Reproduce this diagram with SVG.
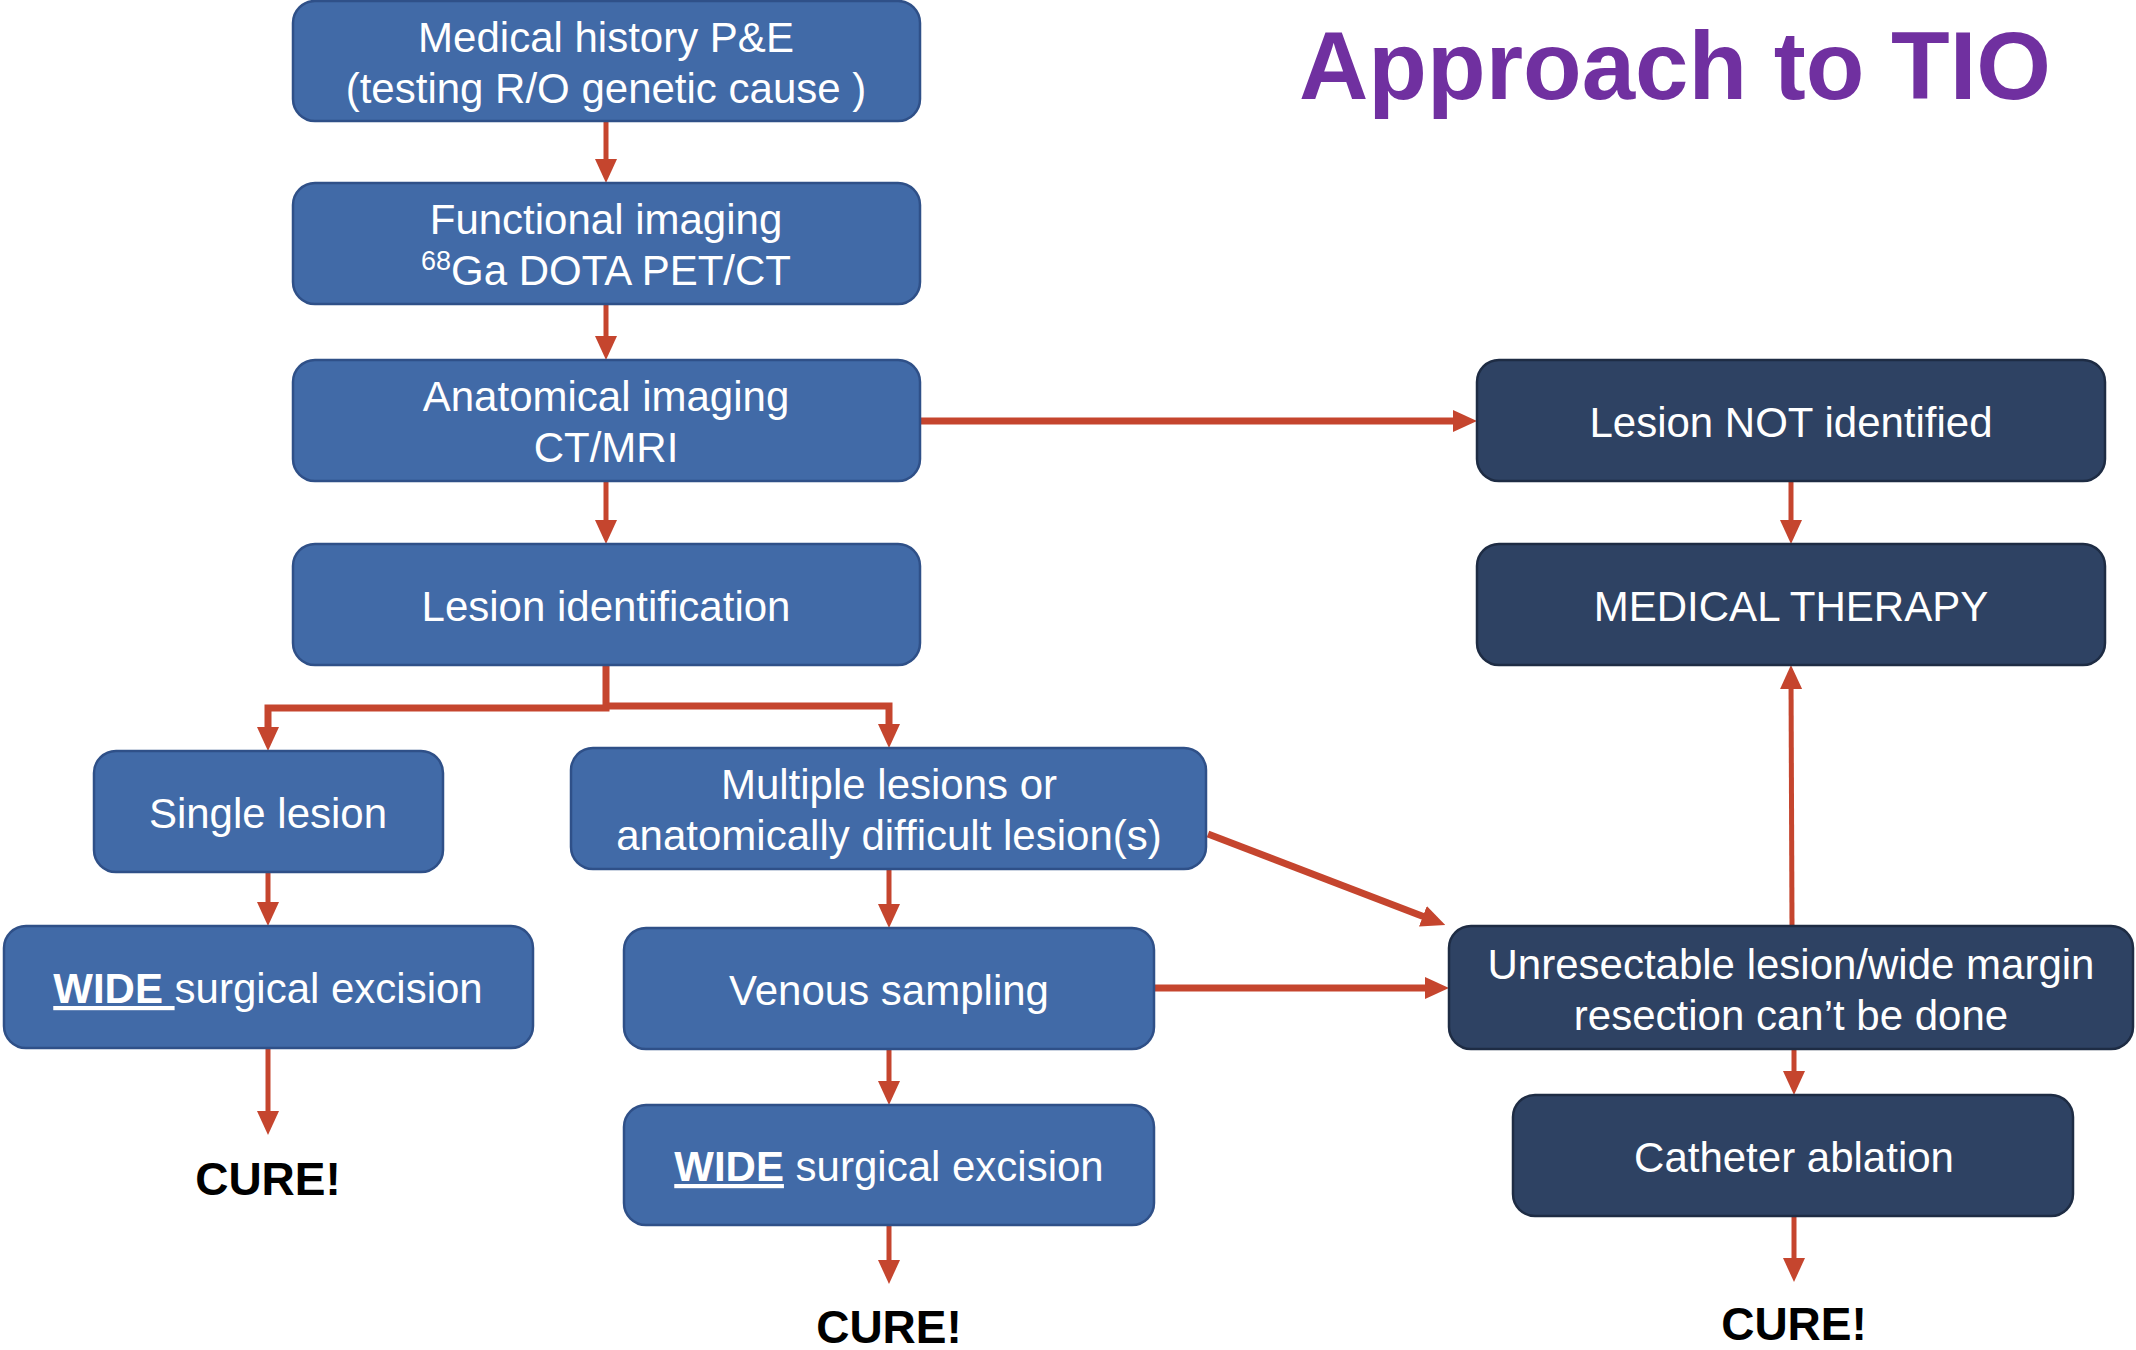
<svg xmlns="http://www.w3.org/2000/svg" width="2136" height="1350" viewBox="0 0 2136 1350">
<style>
.b{fill:#416AA7;stroke:#2F5088;stroke-width:2.5}
.d{fill:#2E4263;stroke:#1E2C44;stroke-width:2.5}
.t{font-family:"Liberation Sans",Arial,sans-serif;font-size:42px;fill:#FFFFFF;text-anchor:middle}
.c{stroke:#C5452E;fill:none;stroke-width:5}
.k{stroke:#C5452E;fill:none;stroke-width:7}
.cure{font-family:"Liberation Sans",Arial,sans-serif;font-size:46px;font-weight:bold;fill:#000;text-anchor:middle}
</style>
<defs>
<marker id="ah" markerUnits="userSpaceOnUse" viewBox="0 0 24 22" refX="13" refY="11" markerWidth="24" markerHeight="22" orient="auto">
<path d="M0,0 L24,11 L0,22 Z" fill="#C5452E"/>
</marker>
</defs>
<rect width="2136" height="1350" fill="#FFFFFF"/>
<text x="1675" y="99" style="font-family:'Liberation Sans',Arial,sans-serif;font-size:96px;font-weight:bold;fill:#7030A0;text-anchor:middle">Approach to TIO</text>

<g id="connectors">
<path class="c" d="M606,121 V172" marker-end="url(#ah)"/>
<path class="c" d="M606,304 V349" marker-end="url(#ah)"/>
<path class="c" d="M606,481 V533" marker-end="url(#ah)"/>
<path class="k" d="M920,421 H1466" marker-end="url(#ah)"/>
<path class="c" d="M1791,481 V533" marker-end="url(#ah)"/>
<path class="k" d="M606,665 V708 H268 V740" marker-end="url(#ah)"/>
<path class="k" d="M606,706 H889 V737" marker-end="url(#ah)"/>
<path class="c" d="M268,872 V915" marker-end="url(#ah)"/>
<path class="c" d="M268,1048 V1124" marker-end="url(#ah)"/>
<path class="c" d="M889,869 V917" marker-end="url(#ah)"/>
<path class="c" d="M889,1049 V1094" marker-end="url(#ah)"/>
<path class="c" d="M889,1225 V1273" marker-end="url(#ah)"/>
<path class="k" d="M1208,834 L1435,921" marker-end="url(#ah)"/>
<path class="k" d="M1154,988 H1438" marker-end="url(#ah)"/>
<path class="c" d="M1792,926 L1791,676" marker-end="url(#ah)"/>
<path class="c" d="M1794,1049 V1084" marker-end="url(#ah)"/>
<path class="c" d="M1794,1216 V1271" marker-end="url(#ah)"/>
</g>

<g id="n1"><rect class="b" x="293" y="1" width="627" height="120" rx="22"/>
<text class="t" x="606" y="52">Medical history P&amp;E</text>
<text class="t" x="606" y="103">(testing R/O genetic cause )</text></g>

<g id="n2"><rect class="b" x="293" y="183" width="627" height="121" rx="22"/>
<text class="t" x="606" y="234">Functional imaging</text>
<text class="t" x="606" y="285"><tspan font-size="27" dy="-15">68</tspan><tspan dy="15">Ga DOTA PET/CT</tspan></text></g>

<g id="n3"><rect class="b" x="293" y="360" width="627" height="121" rx="22"/>
<text class="t" x="606" y="411">Anatomical imaging</text>
<text class="t" x="606" y="462">CT/MRI</text></g>

<g id="n4"><rect class="b" x="293" y="544" width="627" height="121" rx="22"/>
<text class="t" x="606" y="621">Lesion identification</text></g>

<g id="n5"><rect class="b" x="94" y="751" width="349" height="121" rx="22"/>
<text class="t" x="268" y="828">Single lesion</text></g>

<g id="n6"><rect class="b" x="571" y="748" width="635" height="121" rx="22"/>
<text class="t" x="889" y="799">Multiple lesions or</text>
<text class="t" x="889" y="850">anatomically difficult lesion(s)</text></g>

<g id="n7"><rect class="b" x="4" y="926" width="529" height="122" rx="22"/>
<text class="t" x="268" y="1003"><tspan font-weight="bold" text-decoration="underline">WIDE </tspan>surgical excision</text></g>

<g id="n8"><rect class="b" x="624" y="928" width="530" height="121" rx="22"/>
<text class="t" x="889" y="1005">Venous sampling</text></g>

<g id="n9"><rect class="b" x="624" y="1105" width="530" height="120" rx="22"/>
<text class="t" x="889" y="1181"><tspan font-weight="bold" text-decoration="underline">WIDE</tspan> surgical excision</text></g>

<g id="n10"><rect class="d" x="1477" y="360" width="628" height="121" rx="22"/>
<text class="t" x="1791" y="437">Lesion NOT identified</text></g>

<g id="n11"><rect class="d" x="1477" y="544" width="628" height="121" rx="22"/>
<text class="t" x="1791" y="621">MEDICAL THERAPY</text></g>

<g id="n12"><rect class="d" x="1449" y="926" width="684" height="123" rx="22"/>
<text class="t" x="1791" y="979">Unresectable lesion/wide margin</text>
<text class="t" x="1791" y="1030">resection can’t be done</text></g>

<g id="n13"><rect class="d" x="1513" y="1095" width="560" height="121" rx="22"/>
<text class="t" x="1794" y="1172">Catheter ablation</text></g>

<g id="cure1"><text class="cure" x="268" y="1195">CURE!</text></g>
<g id="cure2"><text class="cure" x="889" y="1343">CURE!</text></g>
<g id="cure3"><text class="cure" x="1794" y="1340">CURE!</text></g>
</svg>
